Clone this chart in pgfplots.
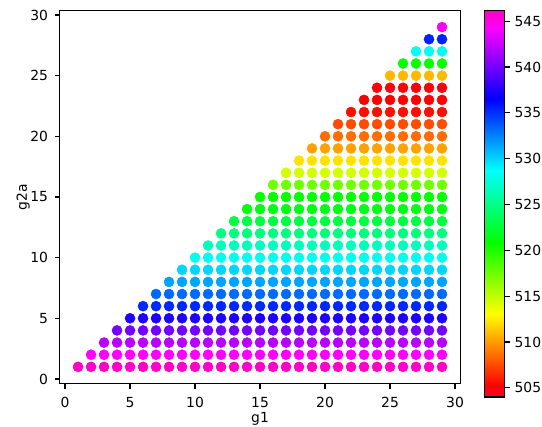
\documentclass[border=0pt]{standalone}
\usepackage{fontspec}
\setmainfont{DejaVu Sans}
\usepackage{pgfplots}
\pgfplotsset{compat=1.18}

% gist_rainbow
\pgfplotsset{colormap={gistrainbow}{
  rgb(0pt)=(1,0,0.16) rgb(30pt)=(1,0,0) rgb(215pt)=(1,1,0) rgb(400pt)=(0,1,0)
  rgb(586pt)=(0,1,1) rgb(770pt)=(0,0,1) rgb(954pt)=(1,0,1) rgb(1000pt)=(1,0,0.75)}}

\begin{document}
\begin{tikzpicture}
\useasboundingbox (-43.1pt,-31.0pt) rectangle (347.2pt,276.4pt);
\begin{axis}[
    at={(0,0)}, anchor=south west,
    scale only axis,
    width=288.3pt, height=269.1pt,
    xmin=-0.4, xmax=30.4, ymin=-0.4, ymax=30.4,
    xtick={0,5,...,30}, ytick={0,5,...,30},
    xtick pos=left, ytick pos=left,
    tick align=outside,
    major tick length=3.5pt,
    tick style={black, line width=0.8pt},
    axis line style={line width=0.8pt},
    /pgf/number format/assume math mode=true,
    ticklabel style={font=\fontsize{10}{12}\selectfont},
    xticklabel style={yshift=-2.5pt},
    yticklabel style={xshift=-1.5pt},
    xlabel={g1}, ylabel={g2a},
    every axis x label/.style={at={(axis description cs:0.5,-0.0929)}, anchor=center, font=\fontsize{10}{12}\selectfont},
    every axis y label/.style={at={(axis description cs:-0.0916,0.5)}, anchor=center, rotate=90, font=\fontsize{10}{12}\selectfont},
    colormap name=gistrainbow,
    point meta min=504, point meta max=546.2,
    colorbar,
    colorbar style={
        at={(parent axis.north east)}, anchor=north west,
        xshift=9.2pt,
        scale only axis,
        width=14.4pt, height=278.6pt,
        ytick={505,510,...,545},
        ytick pos=right, yticklabel pos=right,
        tick align=outside,
        major tick length=3.5pt,
        tick style={black, line width=0.8pt},
        axis line style={line width=0.8pt},
        /pgf/number format/assume math mode=true,
        yticklabel style={font=\fontsize{10}{12}\selectfont},
    },
]
\addplot[scatter, only marks, mark=*, mark size=3.6pt, point meta=explicit,
    scatter/use mapped color={draw=mapped color, fill=mapped color}]
  table[row sep=\\, x=x, y=y, meta=c]{
x y c\\
1 1 546.0\\ 2 1 545.8\\ 3 1 546.0\\ 4 1 545.9\\ 5 1 545.7\\ 6 1 546.0\\ 7 1 545.8\\ 8 1 546.0\\ 9 1 545.7\\ 10 1 546.0\\ 11 1 545.9\\ 12 1 546.0\\ 13 1 545.8\\ 14 1 545.7\\ 15 1 546.0\\ 16 1 545.8\\ 17 1 546.0\\ 18 1 545.9\\ 19 1 546.1\\ 20 1 545.7\\ 21 1 546.0\\ 22 1 545.8\\ 23 1 546.0\\ 24 1 546.1\\ 25 1 545.8\\ 26 1 545.7\\ 27 1 546.0\\ 28 1 545.9\\ 29 1 546.1\\
2 2 544.3\\ 3 2 544.3\\ 4 2 544.3\\ 5 2 544.3\\ 6 2 544.3\\ 7 2 544.3\\ 8 2 544.3\\ 9 2 544.3\\ 10 2 544.3\\ 11 2 544.3\\ 12 2 544.3\\ 13 2 544.3\\ 14 2 544.3\\ 15 2 544.3\\ 16 2 544.3\\ 17 2 544.3\\ 18 2 544.3\\ 19 2 544.3\\ 20 2 544.3\\ 21 2 544.3\\ 22 2 544.3\\ 23 2 544.3\\ 24 2 544.3\\ 25 2 544.3\\ 26 2 544.3\\ 27 2 544.3\\ 28 2 544.3\\ 29 2 544.3\\
3 3 542.1\\ 4 3 542.1\\ 5 3 542.1\\ 6 3 542.1\\ 7 3 542.1\\ 8 3 542.1\\ 9 3 542.1\\ 10 3 542.1\\ 11 3 542.1\\ 12 3 542.1\\ 13 3 542.1\\ 14 3 542.1\\ 15 3 542.1\\ 16 3 542.1\\ 17 3 542.1\\ 18 3 542.1\\ 19 3 542.1\\ 20 3 542.1\\ 21 3 542.1\\ 22 3 542.1\\ 23 3 542.1\\ 24 3 542.1\\ 25 3 542.1\\ 26 3 542.1\\ 27 3 542.1\\ 28 3 542.1\\ 29 3 542.1\\
4 4 540.0\\ 5 4 540.0\\ 6 4 540.0\\ 7 4 540.0\\ 8 4 540.0\\ 9 4 540.0\\ 10 4 540.0\\ 11 4 540.0\\ 12 4 540.0\\ 13 4 540.0\\ 14 4 540.0\\ 15 4 540.0\\ 16 4 540.0\\ 17 4 540.0\\ 18 4 540.0\\ 19 4 540.0\\ 20 4 540.0\\ 21 4 540.0\\ 22 4 540.0\\ 23 4 540.0\\ 24 4 540.0\\ 25 4 540.0\\ 26 4 540.0\\ 27 4 540.0\\ 28 4 540.0\\ 29 4 540.0\\
5 5 537.4\\ 6 5 537.4\\ 7 5 537.4\\ 8 5 537.4\\ 9 5 537.4\\ 10 5 537.4\\ 11 5 537.4\\ 12 5 537.4\\ 13 5 537.4\\ 14 5 537.4\\ 15 5 537.4\\ 16 5 537.4\\ 17 5 537.4\\ 18 5 537.4\\ 19 5 537.4\\ 20 5 537.4\\ 21 5 537.4\\ 22 5 537.4\\ 23 5 537.4\\ 24 5 537.4\\ 25 5 537.4\\ 26 5 537.4\\ 27 5 537.4\\ 28 5 537.4\\ 29 5 537.4\\
6 6 535.3\\ 7 6 535.3\\ 8 6 535.3\\ 9 6 535.3\\ 10 6 535.3\\ 11 6 535.3\\ 12 6 535.3\\ 13 6 535.3\\ 14 6 535.3\\ 15 6 535.3\\ 16 6 535.3\\ 17 6 535.3\\ 18 6 535.3\\ 19 6 535.3\\ 20 6 535.3\\ 21 6 535.3\\ 22 6 535.3\\ 23 6 535.3\\ 24 6 535.3\\ 25 6 535.3\\ 26 6 535.3\\ 27 6 535.3\\ 28 6 535.3\\ 29 6 535.3\\
7 7 533.3\\ 8 7 533.3\\ 9 7 533.3\\ 10 7 533.3\\ 11 7 533.3\\ 12 7 533.3\\ 13 7 533.3\\ 14 7 533.3\\ 15 7 533.3\\ 16 7 533.3\\ 17 7 533.3\\ 18 7 533.3\\ 19 7 533.3\\ 20 7 533.3\\ 21 7 533.3\\ 22 7 533.3\\ 23 7 533.3\\ 24 7 533.3\\ 25 7 533.3\\ 26 7 533.3\\ 27 7 533.3\\ 28 7 533.3\\ 29 7 533.3\\
8 8 531.5\\ 9 8 531.5\\ 10 8 531.5\\ 11 8 531.5\\ 12 8 531.5\\ 13 8 531.5\\ 14 8 531.5\\ 15 8 531.5\\ 16 8 531.5\\ 17 8 531.5\\ 18 8 531.5\\ 19 8 531.5\\ 20 8 531.5\\ 21 8 531.5\\ 22 8 531.5\\ 23 8 531.5\\ 24 8 531.5\\ 25 8 531.5\\ 26 8 531.5\\ 27 8 531.5\\ 28 8 531.5\\ 29 8 531.5\\
9 9 530.0\\ 10 9 530.0\\ 11 9 530.0\\ 12 9 530.0\\ 13 9 530.0\\ 14 9 530.0\\ 15 9 530.0\\ 16 9 530.0\\ 17 9 530.0\\ 18 9 530.0\\ 19 9 530.0\\ 20 9 530.0\\ 21 9 530.0\\ 22 9 530.0\\ 23 9 530.0\\ 24 9 530.0\\ 25 9 530.0\\ 26 9 530.0\\ 27 9 530.0\\ 28 9 530.0\\ 29 9 530.0\\
10 10 528.3\\ 11 10 528.3\\ 12 10 528.3\\ 13 10 528.3\\ 14 10 528.3\\ 15 10 528.3\\ 16 10 528.3\\ 17 10 528.3\\ 18 10 528.3\\ 19 10 528.3\\ 20 10 528.3\\ 21 10 528.3\\ 22 10 528.3\\ 23 10 528.3\\ 24 10 528.3\\ 25 10 528.3\\ 26 10 528.3\\ 27 10 528.3\\ 28 10 528.3\\ 29 10 528.3\\
11 11 526.7\\ 12 11 526.7\\ 13 11 526.7\\ 14 11 526.7\\ 15 11 526.7\\ 16 11 526.7\\ 17 11 526.7\\ 18 11 526.7\\ 19 11 526.7\\ 20 11 526.7\\ 21 11 526.7\\ 22 11 526.7\\ 23 11 526.7\\ 24 11 526.7\\ 25 11 526.7\\ 26 11 526.7\\ 27 11 526.7\\ 28 11 526.7\\ 29 11 526.7\\
12 12 524.8\\ 13 12 524.8\\ 14 12 524.8\\ 15 12 524.8\\ 16 12 524.8\\ 17 12 524.8\\ 18 12 524.8\\ 19 12 524.8\\ 20 12 524.8\\ 21 12 524.8\\ 22 12 524.8\\ 23 12 524.8\\ 24 12 524.8\\ 25 12 524.8\\ 26 12 524.8\\ 27 12 524.8\\ 28 12 524.8\\ 29 12 524.8\\
13 13 522.9\\ 14 13 522.9\\ 15 13 522.9\\ 16 13 522.9\\ 17 13 522.9\\ 18 13 522.9\\ 19 13 522.9\\ 20 13 522.9\\ 21 13 522.9\\ 22 13 522.9\\ 23 13 522.9\\ 24 13 522.9\\ 25 13 522.9\\ 26 13 522.9\\ 27 13 522.9\\ 28 13 522.9\\ 29 13 522.9\\
14 14 521.5\\ 15 14 521.5\\ 16 14 521.5\\ 17 14 521.5\\ 18 14 521.5\\ 19 14 521.5\\ 20 14 521.5\\ 21 14 521.5\\ 22 14 521.5\\ 23 14 521.5\\ 24 14 521.5\\ 25 14 521.5\\ 26 14 521.5\\ 27 14 521.5\\ 28 14 521.5\\ 29 14 521.5\\
15 15 520.8\\ 16 15 520.8\\ 17 15 520.8\\ 18 15 520.8\\ 19 15 520.8\\ 20 15 520.8\\ 21 15 520.8\\ 22 15 520.8\\ 23 15 520.8\\ 24 15 520.8\\ 25 15 520.8\\ 26 15 520.8\\ 27 15 520.8\\ 28 15 520.8\\ 29 15 520.8\\
16 16 517.4\\ 17 16 517.4\\ 18 16 517.4\\ 19 16 517.4\\ 20 16 517.4\\ 21 16 517.4\\ 22 16 517.4\\ 23 16 517.4\\ 24 16 517.4\\ 25 16 517.4\\ 26 16 517.4\\ 27 16 517.4\\ 28 16 517.4\\ 29 16 517.4\\
17 17 514.4\\ 18 17 514.4\\ 19 17 514.4\\ 20 17 514.4\\ 21 17 514.4\\ 22 17 514.4\\ 23 17 514.4\\ 24 17 514.4\\ 25 17 514.4\\ 26 17 514.4\\ 27 17 514.4\\ 28 17 514.4\\ 29 17 514.4\\
18 18 512.2\\ 19 18 512.2\\ 20 18 512.2\\ 21 18 512.2\\ 22 18 512.2\\ 23 18 512.2\\ 24 18 512.2\\ 25 18 512.2\\ 26 18 512.2\\ 27 18 512.2\\ 28 18 512.2\\ 29 18 512.2\\
19 19 510.2\\ 20 19 510.2\\ 21 19 510.2\\ 22 19 510.2\\ 23 19 510.2\\ 24 19 510.2\\ 25 19 510.2\\ 26 19 510.2\\ 27 19 510.2\\ 28 19 510.2\\ 29 19 510.2\\
20 20 508.6\\ 21 20 508.6\\ 22 20 508.6\\ 23 20 508.6\\ 24 20 508.6\\ 25 20 508.6\\ 26 20 508.6\\ 27 20 508.6\\ 28 20 508.6\\ 29 20 508.6\\
21 21 507.6\\ 22 21 507.6\\ 23 21 507.6\\ 24 21 507.6\\ 25 21 507.6\\ 26 21 507.6\\ 27 21 507.6\\ 28 21 507.6\\ 29 21 507.6\\
22 22 505.7\\ 23 22 505.7\\ 24 22 505.7\\ 25 22 505.7\\ 26 22 505.7\\ 27 22 505.7\\ 28 22 505.7\\ 29 22 505.7\\
23 23 505.2\\ 24 23 505.2\\ 25 23 505.2\\ 26 23 505.2\\ 27 23 505.2\\ 28 23 505.2\\ 29 23 505.2\\
24 24 505.0\\ 25 24 505.0\\ 26 24 505.0\\ 27 24 505.0\\ 28 24 505.0\\ 29 24 505.0\\
25 25 510.9\\ 26 25 510.9\\ 27 25 510.9\\ 28 25 510.9\\ 29 25 510.9\\
26 26 520.6\\ 27 26 520.6\\ 28 26 520.6\\ 29 26 520.6\\
27 27 528.3\\ 28 27 528.3\\ 29 27 528.3\\
28 28 535.5\\ 29 28 535.5\\
29 29 544.5\\
};
\end{axis}
\end{tikzpicture}
\end{document}
